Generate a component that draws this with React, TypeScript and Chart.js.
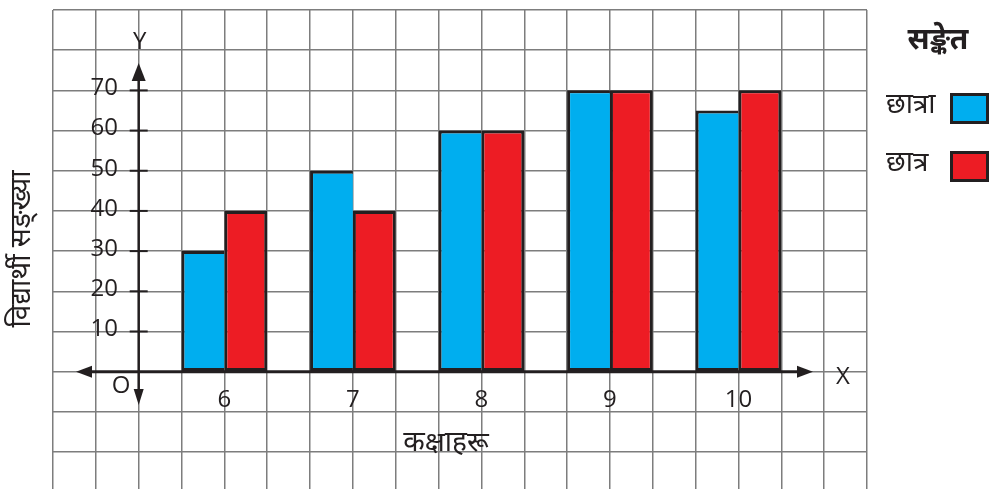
import React, { useEffect, useRef } from 'react';
import { Chart, registerables } from 'chart.js';

Chart.register(...registerables);

// ---- data ----
const classes = [6, 7, 8, 9, 10];
const girls = [30, 50, 60, 70, 65];
const boys = [40, 40, 60, 70, 70];
const yTickLabels = [10, 20, 30, 40, 50, 60, 70];
const seriesLabels = ['छात्रा', 'छात्र'];
const seriesColors = ['#00aeef', '#ed1c24'];
const xTitle = 'कक्षाहरू';
const yTitle = 'विद्यार्थी सङ्ख्या';
const legendTitle = 'सङ्केत';

const INK = '#231f20';
const FONT = '"Open Sans", "Noto Sans", sans-serif';

const decoPlugin = {
  id: 'deco',
  afterDatasetsDraw(chart: any) {
    const { ctx } = chart;
    const xs = chart.scales.x;
    const ys = chart.scales.y;
    const ax = xs.getPixelForValue(16 / 3); // y-axis position on the graph paper
    const ay = ys.getPixelForValue(0);
    ctx.save();
    ctx.strokeStyle = INK;
    ctx.fillStyle = INK;
    ctx.lineCap = 'butt';

    // x axis
    ctx.lineWidth = 3;
    ctx.beginPath();
    ctx.moveTo(86, ay);
    ctx.lineTo(802, ay);
    ctx.stroke();
    ctx.beginPath();
    ctx.moveTo(813, ay);
    ctx.lineTo(797, ay - 6);
    ctx.lineTo(797, ay + 6);
    ctx.closePath();
    ctx.fill();
    ctx.beginPath();
    ctx.moveTo(76, ay);
    ctx.lineTo(92, ay - 6);
    ctx.lineTo(92, ay + 6);
    ctx.closePath();
    ctx.fill();

    // y axis
    ctx.lineWidth = 2.5;
    ctx.beginPath();
    ctx.moveTo(ax, 75);
    ctx.lineTo(ax, 395);
    ctx.stroke();
    ctx.beginPath();
    ctx.moveTo(ax, 63);
    ctx.lineTo(ax - 7, 81);
    ctx.lineTo(ax + 7, 81);
    ctx.closePath();
    ctx.fill();
    ctx.beginPath();
    ctx.moveTo(ax, 405);
    ctx.lineTo(ax - 5, 389);
    ctx.lineTo(ax + 5, 389);
    ctx.closePath();
    ctx.fill();

    // y tick marks and labels
    ctx.lineWidth = 2;
    ctx.font = `24px ${FONT}`;
    ctx.textBaseline = 'middle';
    ctx.textAlign = 'right';
    yTickLabels.forEach((v) => {
      const py = ys.getPixelForValue(v);
      ctx.beginPath();
      ctx.moveTo(ax - 9, py);
      ctx.lineTo(ax + 9, py);
      ctx.stroke();
      ctx.fillText(String(v), 118, py - 2);
    });

    // x labels
    ctx.textAlign = 'center';
    classes.forEach((c) => {
      ctx.fillText(String(c), xs.getPixelForValue(c), ay + 28);
    });

    // axis letters
    ctx.fillText('O', 121, 386);
    ctx.fillText('Y', ax + 1, 42);
    ctx.fillText('X', 843, 377);

    // titles
    ctx.font = `28px ${FONT}`;
    ctx.fillText(xTitle, 446, 443);
    ctx.save();
    ctx.translate(22, 249);
    ctx.rotate(-Math.PI / 2);
    ctx.fillText(yTitle, 0, 0);
    ctx.restore();

    // legend
    ctx.font = `bold 30px ${FONT}`;
    ctx.fillText(legendTitle, 938, 40);
    ctx.font = `28px ${FONT}`;
    ctx.textAlign = 'left';
    const ds = chart.data.datasets;
    const rows = [108, 166];
    ds.forEach((d: any, i: number) => {
      const cy = rows[i];
      ctx.fillStyle = INK;
      ctx.fillText(d.label, 886, cy - 3);
      ctx.fillStyle = d.backgroundColor;
      ctx.fillRect(950, cy - 15, 39, 31);
      ctx.lineWidth = 3;
      ctx.strokeStyle = INK;
      ctx.strokeRect(951.5, cy - 13.5, 36, 28);
    });
    ctx.restore();
  },
};

export default function App() {
  const ref = useRef<HTMLCanvasElement>(null);

  useEffect(() => {
    if (!ref.current) return;
    const chart = new Chart(ref.current, {
      type: 'bar',
      data: {
        datasets: [
          {
            label: seriesLabels[0],
            data: classes.map((c, i) => ({ x: c, y: girls[i] })),
            backgroundColor: seriesColors[0],
            borderColor: INK,
            borderWidth: 3,
            borderSkipped: 'right',
          },
          {
            label: seriesLabels[1],
            data: classes.map((c, i) => ({ x: c, y: boys[i] })),
            backgroundColor: seriesColors[1],
            borderColor: INK,
            borderWidth: 3,
            borderSkipped: false,
          },
        ],
      },
      options: {
        responsive: false,
        animation: false,
        categoryPercentage: 2,
        barPercentage: 1,
        layout: { padding: { left: 53, right: 125, top: 10, bottom: 0 } },
        plugins: {
          legend: { display: false },
          tooltip: { enabled: false },
        },
        scales: {
          x: {
            type: 'linear',
            min: 14 / 3,
            max: 11,
            offset: false,
            afterBuildTicks: (s: any) => {
              s.ticks = Array.from({ length: 20 }, (_, i) => ({ value: 14 / 3 + i / 3 }));
            },
            ticks: { display: false },
            grid: { color: '#7d7d7d', lineWidth: 1.5, drawTicks: false, offset: false },
            border: { display: false },
          },
          y: {
            type: 'linear',
            min: -29.2,
            max: 90,
            afterBuildTicks: (s: any) => {
              s.ticks = Array.from({ length: 12 }, (_, i) => ({ value: -20 + i * 10 }));
            },
            ticks: { display: false },
            grid: { color: '#7d7d7d', lineWidth: 1.5, drawTicks: false },
            border: { display: false },
          },
        },
      } as any,
      plugins: [decoPlugin],
    });
    return () => chart.destroy();
  }, []);

  return (
    <div style={{ position: 'fixed', left: 0, top: 0, width: 992, height: 489, background: '#fff' }}>
      <canvas ref={ref} width={992} height={489} />
    </div>
  );
}
